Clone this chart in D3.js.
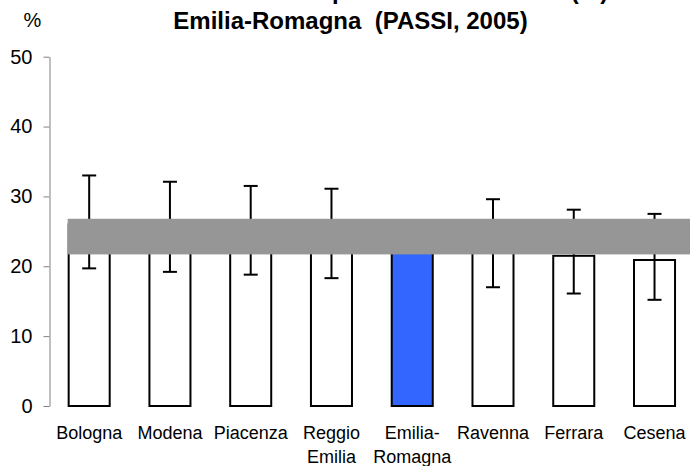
<!doctype html>
<html>

<head>
    <meta charset="utf-8">
    <title>Sedentari</title>
    <style>
    body {
        margin: 0;
        background: #fff;
    }

    svg {
        display: block;
        font-family: Arial, "Liberation Sans", sans-serif;
    }
    </style>
</head>

<body>
    <svg width="690" height="466"></svg>
    <script src="https://cdn.jsdelivr.net/npm/d3@7"></script>
    <script>
    // dati
    var categories = ["Bologna", "Modena", "Piacenza", "Reggio Emilia", "Emilia-Romagna", "Ravenna", "Ferrara", "Cesena"];
    var values = [26.0, 25.6, 25.1, 24.7, 24.2, 23.3, 21.5, 20.9];
    var lower = [19.7, 19.2, 18.8, 18.3, null, 17.0, 16.1, 15.2];
    var upper = [33.0, 32.1, 31.5, 31.1, null, 29.6, 28.1, 27.5];
    var regionCI = [21.7, 26.8];
    var yTicks = [0, 10, 20, 30, 40, 50];
    var labelLines = {
        "Reggio Emilia": ["Reggio", "Emilia"],
        "Emilia-Romagna": ["Emilia-", "Romagna"]
    };
    var regione = "Emilia-Romagna";

    var data = categories.map(function(c, i) {
        return { name: c, value: values[i], lo: lower[i], hi: upper[i] };
    });

    var svg = d3.select("svg");

    var x = d3.scaleBand()
        .domain(categories)
        .range([48.8, 694.9])
        .paddingInner(0.492)
        .paddingOuter(0.246);

    var y = d3.scaleLinear()
        .domain([0, 50])
        .range([406, 56.7]);

    // titolo (prima riga tagliata in alto, come nell'originale)
    var title = svg.append("text")
        .attr("x", 350.5)
        .attr("text-anchor", "middle")
        .attr("font-weight", "bold")
        .attr("font-size", "24px");
    title.append("tspan").attr("x", 350.5).attr("y", -1.5).text("Sedentari nelle ASL: prevalenza standard (%)");
    title.append("tspan").attr("x", 350.5).attr("y", 28.5).text("Emilia-Romagna\u00a0 (PASSI, 2005)");

    svg.append("text")
        .attr("x", 32.5)
        .attr("y", 27)
        .attr("text-anchor", "middle")
        .attr("font-size", "20px")
        .text("%");

    // asse y
    var yAxis = d3.axisLeft(y)
        .tickValues(yTicks)
        .tickSize(6)
        .tickSizeOuter(0)
        .tickPadding(11);

    var yAxisG = svg.append("g")
        .attr("transform", "translate(49.5,0)")
        .call(yAxis);
    yAxisG.selectAll("path, line").attr("stroke", "#808080");
    yAxisG.selectAll("text")
        .attr("font-size", "20px")
        .attr("font-family", "Arial, 'Liberation Sans', sans-serif")
        .attr("fill", "#000");

    // barre
    svg.append("g").selectAll("rect")
        .data(data)
        .join("rect")
        .attr("x", function(d) { return x(d.name); })
        .attr("y", function(d) { return y(d.value); })
        .attr("width", x.bandwidth())
        .attr("height", function(d) { return y(0) - y(d.value); })
        .attr("fill", function(d) { return d.name === regione ? "#3366ff" : "#fff"; })
        .attr("stroke", "#000")
        .attr("stroke-width", 2);

    // intervalli di confidenza
    var err = svg.append("g")
        .attr("stroke", "#000")
        .attr("stroke-width", 2)
        .selectAll("g")
        .data(data.filter(function(d) { return d.lo != null; }))
        .join("g")
        .attr("transform", function(d) { return "translate(" + (x(d.name) + x.bandwidth() / 2) + ",0)"; });

    err.append("line")
        .attr("y1", function(d) { return y(d.lo); })
        .attr("y2", function(d) { return y(d.hi); });
    err.append("line")
        .attr("x1", -7).attr("x2", 7)
        .attr("y1", function(d) { return y(d.hi); })
        .attr("y2", function(d) { return y(d.hi); });
    err.append("line")
        .attr("x1", -7).attr("x2", 7)
        .attr("y1", function(d) { return y(d.lo); })
        .attr("y2", function(d) { return y(d.lo); });

    // banda IC regionale
    svg.append("rect")
        .attr("x", x(categories[0]) - 1)
        .attr("y", y(regionCI[1]))
        .attr("width", x.range()[1] - x(categories[0]) + 1)
        .attr("height", y(regionCI[0]) - y(regionCI[1]))
        .attr("fill", "#969696");

    // etichette categorie
    var lab = svg.append("g")
        .attr("font-size", "18px")
        .attr("text-anchor", "middle")
        .selectAll("text")
        .data(categories)
        .join("text")
        .attr("x", function(d) { return x(d) + x.bandwidth() / 2; })
        .attr("y", 439);

    lab.selectAll("tspan")
        .data(function(d) { return labelLines[d] || [d]; })
        .join("tspan")
        .attr("x", function() { return d3.select(this.parentNode).attr("x"); })
        .attr("dy", function(d, i) { return i ? 24 : 0; })
        .text(function(d) { return d; });
    </script>
</body>

</html>
